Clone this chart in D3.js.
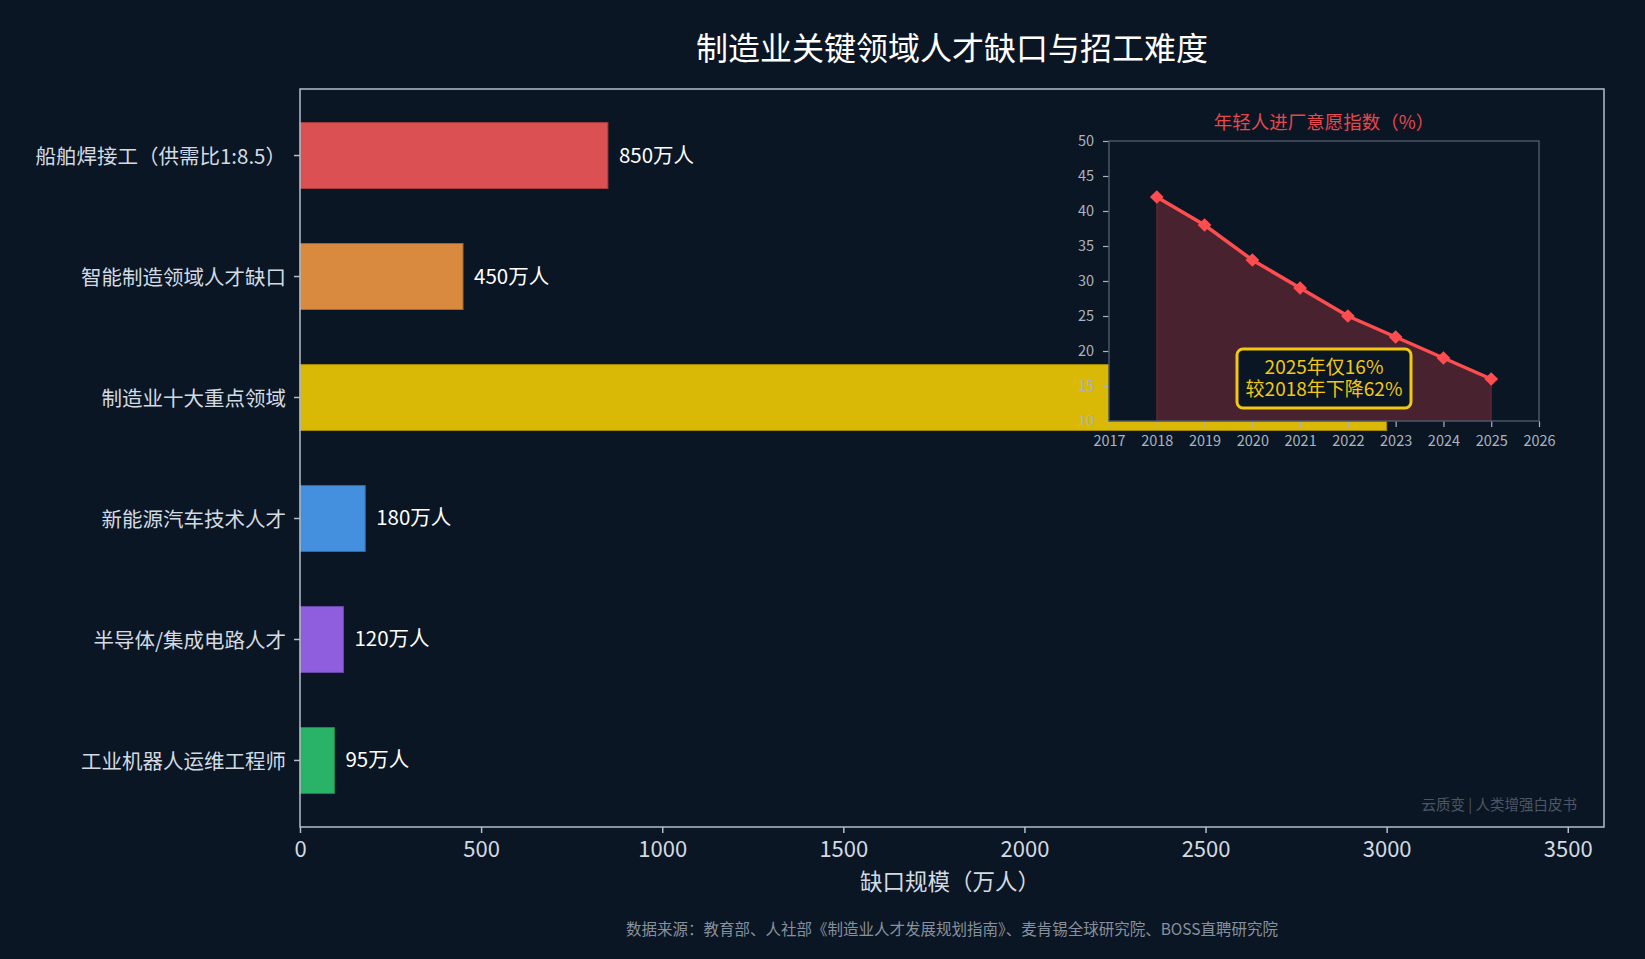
<!DOCTYPE html>
<html>
<head>
<meta charset="utf-8">
<script src="https://cdn.jsdelivr.net/npm/d3@7"></script>
<style>
  html, body { margin: 0; padding: 0; background: #0b1624; }
  svg { display: block; font-family: "Noto Sans CJK SC", "Noto Sans", sans-serif; }
</style>
</head>
<body>
<svg id="chart" width="1645" height="959"></svg>
<script>
// data
const categories = [
  "船舶焊接工（供需比1:8.5）",
  "智能制造领域人才缺口",
  "制造业十大重点领域",
  "新能源汽车技术人才",
  "半导体/集成电路人才",
  "工业机器人运维工程师",
];
const gapValues = [850, 450, 3000, 180, 120, 95];
const barColors = ["#db5052", "#da8a3f", "#d9b806", "#4490de", "#8e5ede", "#29b368"];
const xTicks = [0, 500, 1000, 1500, 2000, 2500, 3000, 3500];

const years = [2018, 2019, 2020, 2021, 2022, 2023, 2024, 2025];
const willingness = [42, 38, 33, 29, 25, 22, 19, 16];
const insetYearTicks = [2017, 2018, 2019, 2020, 2021, 2022, 2023, 2024, 2025, 2026];
const insetValueTicks = [10, 15, 20, 25, 30, 35, 40, 45, 50];

const bg = "#0b1624";
const svg = d3.select("#chart");
svg.append("rect").attr("width", 1645).attr("height", 959).attr("fill", bg);

const margin = { top: 89, right: 41, bottom: 132, left: 300 };
const W = 1645, H = 959;
const cjk = "\"Noto Sans CJK SC\", sans-serif";

const x = d3.scaleLinear().domain([0, 3600]).range([margin.left, W - margin.right]);
const y = d3.scaleBand().domain(categories)
  .range([margin.top, H - margin.bottom])
  .paddingInner(0.455).paddingOuter(0.2775);

// title
svg.append("text")
  .attr("x", 952).attr("y", 60)
  .attr("text-anchor", "middle")
  .attr("fill", "#ffffff")
  .style("font-size", "32px")
  .text("制造业关键领域人才缺口与招工难度");

// bars
svg.append("g").selectAll("rect")
  .data(gapValues)
  .join("rect")
  .attr("x", x(0))
  .attr("y", (d, i) => y(categories[i]))
  .attr("width", d => x(d) - x(0))
  .attr("height", y.bandwidth())
  .attr("fill", (d, i) => barColors[i])
  .attr("stroke", (d, i) => d3.color(barColors[i]).darker(0.8))
  .attr("stroke-width", 1);

// value labels (the 3000 one sits under the inset, as in the original)
svg.append("g").selectAll("text")
  .data(gapValues)
  .join("text")
  .attr("x", d => x(d) + 11)
  .attr("y", (d, i) => y(categories[i]) + y.bandwidth() / 2 - 2)
  .attr("dominant-baseline", "central")
  .attr("fill", "#ffffff")
  .style("font-size", "20.5px")
  .text(d => d + "万人");

// axes
const frameColor = "#b4bec9";
const gx = svg.append("g")
  .attr("transform", `translate(0,${H - margin.bottom})`)
  .call(d3.axisBottom(x).tickValues(xTicks).tickSize(6).tickPadding(8).tickFormat(d3.format("d")));
gx.select(".domain").remove();
gx.selectAll(".tick line").attr("stroke", frameColor).attr("stroke-width", 1.5);
gx.selectAll(".tick text").attr("fill", "#d3dae2").style("font-size", "22px")
  .style("font-family", cjk);

const gy = svg.append("g")
  .attr("transform", `translate(${margin.left},0)`)
  .call(d3.axisLeft(y).tickSize(6).tickPadding(8));
gy.select(".domain").remove();
gy.selectAll(".tick line").attr("stroke", frameColor).attr("stroke-width", 1.5);
gy.selectAll(".tick text").attr("fill", "#d3dae2").style("font-size", "20.5px")
  .attr("dy", "0.4em")
  .style("font-family", cjk);

svg.append("rect")
  .attr("x", margin.left).attr("y", margin.top)
  .attr("width", W - margin.right - margin.left)
  .attr("height", H - margin.bottom - margin.top)
  .attr("fill", "none")
  .attr("stroke", frameColor)
  .attr("stroke-width", 1.5);

svg.append("text")
  .attr("x", 950).attr("y", 880)
  .attr("text-anchor", "middle").attr("dominant-baseline", "central")
  .attr("fill", "#d3dae2")
  .style("font-size", "22.5px")
  .text("缺口规模（万人）");

svg.append("text")
  .attr("x", 952).attr("y", 928)
  .attr("text-anchor", "middle").attr("dominant-baseline", "central")
  .attr("fill", "#87919d")
  .style("font-size", "15.5px")
  .text("数据来源：教育部、人社部《制造业人才发展规划指南》、麦肯锡全球研究院、BOSS直聘研究院");

svg.append("text")
  .attr("x", 1577).attr("y", 803)
  .attr("text-anchor", "end").attr("dominant-baseline", "central")
  .attr("fill", "#4b5664")
  .style("font-size", "14.5px")
  .text("云质变 | 人类增强白皮书");

// inset chart
const ix = d3.scaleLinear().domain([2017, 2026]).range([1109, 1539]);
const iy = d3.scaleLinear().domain([10, 50]).range([421, 141]);
const inset = svg.append("g");
const insetSpine = "#4a5565";

inset.append("rect")
  .attr("x", ix(2017)).attr("y", iy(50))
  .attr("width", ix(2026) - ix(2017)).attr("height", iy(10) - iy(50))
  .attr("fill", bg);

const ixAxis = inset.append("g")
  .attr("transform", `translate(0,${iy(10)})`)
  .call(d3.axisBottom(ix).tickValues(insetYearTicks).tickFormat(d3.format("d")).tickSize(6).tickPadding(9));
const iyAxis = inset.append("g")
  .attr("transform", `translate(${ix(2017)},0)`)
  .call(d3.axisLeft(iy).tickValues(insetValueTicks).tickSize(6).tickPadding(9));
[ixAxis, iyAxis].forEach(g => {
  g.select(".domain").remove();
  g.selectAll(".tick line").attr("stroke", "#aab3bf").attr("stroke-width", 1.2);
  g.selectAll(".tick text").attr("fill", "#aab3bf").style("font-size", "14.5px")
    .style("font-family", cjk);
});

const pts = years.map((yr, i) => [yr, willingness[i]]);
inset.append("path")
  .datum(pts)
  .attr("d", d3.area().x(d => ix(d[0])).y0(iy(10)).y1(d => iy(d[1])))
  .attr("fill", "#ff4d4f").attr("fill-opacity", 0.25)
  .attr("stroke", "#ff4d4f").attr("stroke-opacity", 0.3).attr("stroke-width", 1);

inset.append("rect")
  .attr("x", ix(2017)).attr("y", iy(50))
  .attr("width", ix(2026) - ix(2017)).attr("height", iy(10) - iy(50))
  .attr("fill", "none").attr("stroke", insetSpine).attr("stroke-width", 1.5);

inset.append("path")
  .datum(pts)
  .attr("d", d3.line().x(d => ix(d[0])).y(d => iy(d[1])))
  .attr("fill", "none").attr("stroke", "#ff4d4f").attr("stroke-width", 3.5);

inset.append("g").selectAll("path")
  .data(pts)
  .join("path")
  .attr("d", d3.symbol(d3.symbolDiamond2, 120))
  .attr("transform", d => `translate(${ix(d[0])},${iy(d[1])})`)
  .attr("fill", "#ff4d4f");

inset.append("text")
  .attr("x", (ix(2017) + ix(2026)) / 2).attr("y", 121)
  .attr("text-anchor", "middle").attr("dominant-baseline", "central")
  .attr("fill", "#e5484d")
  .style("font-size", "18.5px")
  .text("年轻人进厂意愿指数（%）");

// annotation box
const note = inset.append("g");
note.append("rect")
  .attr("x", 1237).attr("y", 349).attr("width", 174).attr("height", 59)
  .attr("rx", 6)
  .attr("fill", bg).attr("stroke", "#f2c811").attr("stroke-width", 3);
const noteLines = ["2025年仅" + willingness[7] + "%", "较2018年下降62%"];
note.append("text")
  .attr("text-anchor", "middle")
  .attr("fill", "#f2c811")
  .style("font-size", "19px")
  .selectAll("tspan")
  .data(noteLines)
  .join("tspan")
  .attr("x", 1324)
  .attr("y", (d, i) => 374 + i * 22)
  .text(d => d);
</script>
</body>
</html>
